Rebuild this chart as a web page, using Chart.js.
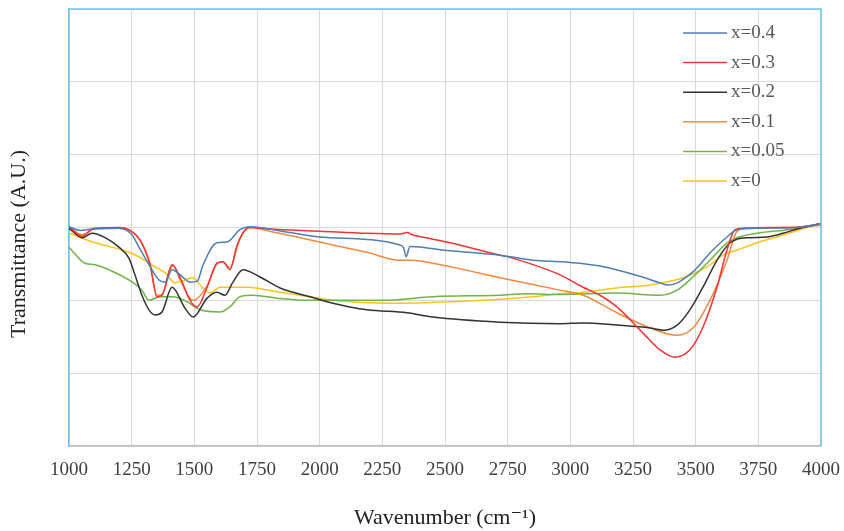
<!DOCTYPE html>
<html>
<head>
<meta charset="utf-8">
<script src="https://cdn.jsdelivr.net/npm/chart.js@4/dist/chart.umd.min.js"></script>
<style>
	html, body { margin: 0; padding: 0; background: #ffffff; }
	#wrap { width: 844px; height: 531px; }
</style>
</head>
<body>
<div id="wrap"><canvas id="ftir"></canvas></div>
<script>
//
// Spectres FTIR (nombre d'onde en cm-1, transmittance en unités arbitraires).
//
const x_ticks = [ 1000, 1250, 1500, 1750, 2000, 2250, 2500, 2750, 3000, 3250, 3500, 3750, 4000 ];
const series_names = [ "x=0.4", "x=0.3", "x=0.2", "x=0.1", "x=0.05", "x=0" ];

// x=0.4
const wn_04 = [ 1000, 1044, 1092, 1200, 1251, 1279, 1319, 1359, 1383, 1411, 1450, 1483, 1511, 1535, 1590, 1630, 1682, 1722, 1850, 2000, 2320, 2335, 2345, 2360, 2520, 2720, 2851, 2959, 3000, 3118, 3277, 3358, 3390, 3489, 3557, 3625, 3665, 3750, 3900, 4000 ];
const t_04 = [ 3.01, 2.96, 2.98, 2.99, 2.90, 2.73, 2.49, 2.28, 2.25, 2.42, 2.33, 2.25, 2.26, 2.49, 2.79, 2.80, 2.97, 3.01, 2.95, 2.87, 2.76, 2.72, 2.60, 2.74, 2.68, 2.62, 2.55, 2.53, 2.52, 2.47, 2.33, 2.24, 2.21, 2.39, 2.65, 2.87, 2.97, 2.99, 3.00, 3.05 ];

// x=0.3
const wn_03 = [ 1000, 1052, 1100, 1200, 1239, 1283, 1323, 1351, 1371, 1411, 1445, 1483, 1511, 1551, 1590, 1614, 1642, 1670, 1710, 1722, 1800, 2000, 2189, 2320, 2350, 2370, 2452, 2520, 2720, 2747, 2851, 2959, 3051, 3118, 3186, 3290, 3358, 3418, 3477, 3529, 3585, 3625, 3657, 3689, 3800, 3900, 4000 ];
const t_03 = [ 3.01, 2.88, 2.99, 3.00, 2.97, 2.83, 2.49, 2.05, 2.07, 2.49, 2.30, 2.00, 1.91, 2.18, 2.51, 2.53, 2.42, 2.75, 2.99, 3.00, 2.98, 2.95, 2.92, 2.91, 2.93, 2.90, 2.84, 2.79, 2.62, 2.60, 2.49, 2.35, 2.18, 2.07, 1.91, 1.55, 1.32, 1.22, 1.32, 1.63, 2.18, 2.69, 2.97, 2.99, 3.00, 3.00, 3.05 ];

// x=0.2
const wn_02 = [ 1000, 1052, 1092, 1144, 1199, 1239, 1263, 1291, 1319, 1343, 1371, 1411, 1463, 1495, 1551, 1590, 1622, 1654, 1694, 1762, 1842, 1961, 2053, 2189, 2348, 2452, 2719, 2959, 3051, 3186, 3318, 3370, 3426, 3477, 3529, 3585, 3637, 3665, 3717, 3785, 3848, 3916, 4000 ];
const t_02 = [ 2.99, 2.86, 2.92, 2.86, 2.73, 2.58, 2.35, 2.07, 1.87, 1.80, 1.84, 2.18, 1.89, 1.77, 2.03, 2.11, 2.07, 2.25, 2.42, 2.32, 2.17, 2.05, 1.96, 1.87, 1.83, 1.77, 1.70, 1.68, 1.69, 1.66, 1.62, 1.59, 1.66, 1.87, 2.18, 2.55, 2.79, 2.84, 2.86, 2.87, 2.92, 2.99, 3.05 ];

// x=0.1
const wn_01 = [ 1000, 1052, 1100, 1200, 1283, 1323, 1351, 1371, 1415, 1443, 1495, 1551, 1590, 1614, 1642, 1682, 1722, 1800, 1922, 2053, 2189, 2320, 2360, 2520, 2719, 2959, 3051, 3186, 3318, 3426, 3489, 3557, 3625, 3665, 3700, 3850, 4000 ];
const t_01 = [ 3.01, 2.90, 2.98, 2.99, 2.83, 2.51, 2.07, 2.08, 2.48, 2.28, 2.00, 2.20, 2.50, 2.53, 2.45, 2.85, 3.00, 2.95, 2.86, 2.76, 2.66, 2.55, 2.55, 2.46, 2.31, 2.14, 2.07, 1.83, 1.62, 1.52, 1.62, 2.00, 2.55, 2.95, 2.99, 3.00, 3.03 ];

// x=0.05
const wn_005 = [ 1000, 1064, 1104, 1172, 1239, 1291, 1319, 1363, 1415, 1471, 1523, 1602, 1642, 1682, 1734, 1830, 1961, 2253, 2452, 2719, 2827, 2959, 3186, 3358, 3426, 3489, 3557, 3625, 3665, 3785, 3848, 4000 ];
const t_005 = [ 2.73, 2.51, 2.49, 2.40, 2.28, 2.14, 2.00, 2.05, 2.05, 1.98, 1.87, 1.84, 1.91, 2.05, 2.07, 2.03, 2.00, 2.00, 2.05, 2.07, 2.09, 2.08, 2.10, 2.07, 2.14, 2.32, 2.55, 2.79, 2.86, 2.94, 2.96, 3.05 ];

// x=0
const wn_0 = [ 1000, 1104, 1239, 1303, 1343, 1383, 1423, 1463, 1495, 1523, 1563, 1602, 1710, 1842, 1961, 2053, 2293, 2588, 2851, 2959, 3051, 3186, 3318, 3450, 3545, 3609, 3665, 3745, 3824, 3916, 4000 ];
const t_0 = [ 2.92, 2.79, 2.66, 2.55, 2.46, 2.38, 2.24, 2.28, 2.31, 2.21, 2.10, 2.18, 2.18, 2.11, 2.05, 2.00, 1.96, 1.99, 2.05, 2.09, 2.11, 2.17, 2.21, 2.31, 2.46, 2.62, 2.69, 2.79, 2.87, 2.97, 3.06 ];

const serif = "'Liberation Serif', 'DejaVu Serif', serif";

// Association des nombres d'onde et des transmittances.
function to_points( wn, t )
{
	return wn.map( ( v, i ) => ( { x: v, y: t[ i ] } ) );
}

function make_set( label, wn, t, color )
{
	return {
		label: label,
		data: to_points( wn, t ),
		borderColor: color,
		backgroundColor: color,
		borderWidth: 1.5,
		pointRadius: 0,
		fill: false,
		cubicInterpolationMode: "monotone"
	};
}

//
// Cadre bleu (haut et droite) et légende placée dans la zone du graphique.
//
const frame_legend = {
	id: "frame_legend",
	afterDraw( chart )
	{
		const ctx = chart.ctx;
		const area = chart.chartArea;

		ctx.save();
		ctx.strokeStyle = "#6cc4ec";
		ctx.lineWidth = 1.5;
		ctx.beginPath();
		ctx.moveTo( area.left, area.top );
		ctx.lineTo( area.right, area.top );
		ctx.lineTo( area.right, area.bottom );
		ctx.stroke();

		ctx.font = "19px " + serif;
		ctx.textBaseline = "middle";
		ctx.fillStyle = "#595959";

		chart.data.datasets.forEach( ( set, i ) =>
		{
			const y = 33 + i * 29.6;
			ctx.strokeStyle = set.borderColor;
			ctx.lineWidth = 1.5;
			ctx.beginPath();
			ctx.moveTo( 683, y );
			ctx.lineTo( 727, y );
			ctx.stroke();
			ctx.fillText( set.label, 731, y );
		} );
		ctx.restore();
	}
};

new Chart( document.getElementById( "ftir" ),
	{
		type: "line",
		data: {
			datasets: [
				make_set( series_names[ 0 ], wn_04, t_04, "#4f7db5" ),
				make_set( series_names[ 1 ], wn_03, t_03, "#ee3434" ),
				make_set( series_names[ 2 ], wn_02, t_02, "#333333" ),
				make_set( series_names[ 3 ], wn_01, t_01, "#f28a40" ),
				make_set( series_names[ 4 ], wn_005, t_005, "#6fb447" ),
				make_set( series_names[ 5 ], wn_0, t_0, "#fbc31c" )
			]
		},
		options: {
			responsive: true,
			maintainAspectRatio: false,
			animation: false,
			layout: {
				padding: { top: 9, right: 23, left: 0, bottom: 0 }
			},
			plugins: {
				legend: { display: false },
				tooltip: { enabled: false }
			},
			scales: {
				x: {
					type: "linear",
					min: 1000,
					max: 4000,
					afterBuildTicks: ( scale ) => { scale.ticks = x_ticks.map( v => ( { value: v } ) ); },
					afterFit: ( scale ) =>
					{
						// Hauteur fixe de l'axe, sans marge ajoutée pour les libellés extrêmes.
						scale.height = 85;
						scale.paddingLeft = 0;
						scale.paddingRight = 0;
					},
					grid: {
						color: "#d9d9d9",
						drawTicks: false
					},
					border: {
						color: "#bfbfbf",
						width: 1.5
					},
					ticks: {
						color: "#404040",
						autoSkip: false,
						maxRotation: 0,
						padding: 13,
						font: { size: 19, family: serif },
						callback: ( v ) => String( v )
					},
					title: {
						display: true,
						text: "Wavenumber (cm⁻¹)",
						color: "#222222",
						font: { size: 22, family: serif },
						padding: { top: 0, bottom: 0 }
					}
				},
				y: {
					min: 0,
					max: 6,
					afterFit: ( scale ) => { scale.width = 69; },
					grid: {
						color: "#d9d9d9",
						drawTicks: false
					},
					border: {
						color: "#6cc4ec",
						width: 1.5
					},
					ticks: {
						display: false,
						stepSize: 1
					},
					title: {
						display: true,
						text: "Transmittance (A.U.)      ",
						color: "#222222",
						font: { size: 22, family: serif },
						padding: { top: 6, bottom: 0 }
					}
				}
			}
		},
		plugins: [ frame_legend ]
	} );
</script>
</body>
</html>
